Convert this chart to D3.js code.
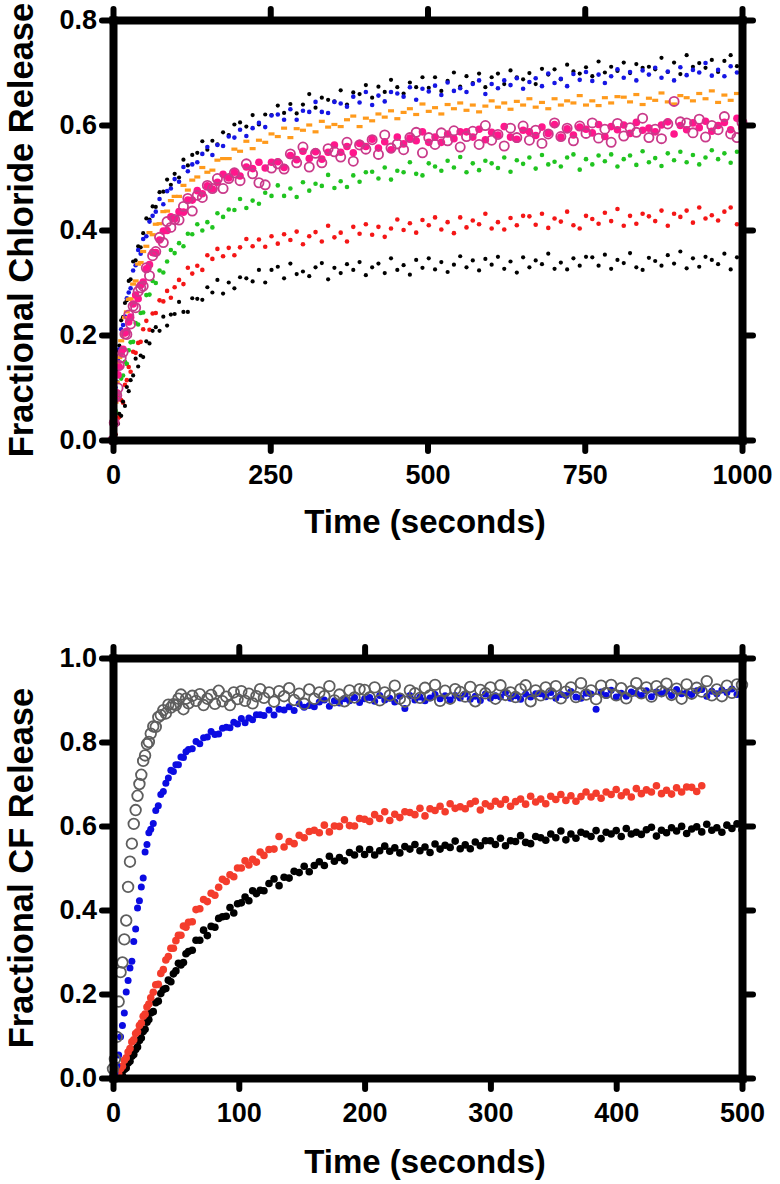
<!DOCTYPE html>
<html>
<head>
<meta charset="utf-8">
<script src="https://cdn.jsdelivr.net/npm/d3@7"></script>
<style>
  body { margin: 0; background: #fff; }
  text { font-family: "Liberation Sans", Arial, Helvetica, sans-serif; font-weight: bold; }
</style>
</head>
<body>
<div id="chart"></div>
<script>
// ---- top panel: fractional chloride release, 0-1000 s ----
var clTimes = [0,2,4,6,8,10,13,16,19,22,25,28,32,36,40,44,48,53,58,63,68,74,80,86,92,98,105,112,119,126,134,142,150,158,166,175,184,193,202,212,222,232,242,252,
  262,272,282,292,302,312,322,332,342,352,362,372,382,392,402,412,422,432,442,452,462,472,482,492,502,512,522,532,542,552,562,572,582,592,602,612,622,632,642,652,662,672,682,692,702,712,722,732,742,752,762,772,782,792,802,812,822,832,842,852,862,872,882,892,902,912,922,932,942,952,962,972,982,992,1000];

var clBlackHigh = [0,0.067,0.089,0.133,0.171,0.180,0.228,0.234,0.261,0.266,0.303,0.306,0.340,0.342,0.369,0.367,0.394,0.422,0.420,0.445,0.444,0.472,0.473,0.496,0.486,0.507,0.500,0.534,0.523,0.543,0.547,0.569,0.553,0.570,0.563,0.586,0.581,0.601,0.605,0.597,0.619,0.601,0.620,0.619,
  0.637,0.623,0.640,0.622,0.639,0.659,0.633,0.652,0.648,0.645,0.666,0.639,0.662,0.659,0.676,0.652,0.673,0.663,0.686,0.672,0.660,0.681,0.672,0.691,0.671,0.691,0.665,0.684,0.700,0.673,
  0.693,0.680,0.698,0.672,0.691,0.698,0.678,0.704,0.691,0.687,0.699,0.678,0.707,0.696,0.706,0.687,0.715,0.702,0.698,0.710,0.693,0.721,0.700,0.711,0.703,0.719,0.699,0.716,0.709,0.711,
  0.706,0.728,0.701,0.719,0.697,0.733,0.711,0.718,0.709,0.724,0.701,0.722,0.733,0.712,0.730];

var clBlue = [0,0.046,0.100,0.111,0.152,0.173,0.211,0.219,0.235,0.270,0.281,0.289,0.323,0.333,0.362,0.355,0.383,0.388,0.416,0.427,0.435,0.459,0.449,0.474,0.479,0.497,0.492,0.520,0.512,0.525,0.529,0.545,0.558,0.543,0.562,0.560,0.578,0.576,0.591,0.579,0.594,0.604,0.596,0.618,
  0.620,0.610,0.630,0.610,0.627,0.625,0.644,0.625,0.623,0.644,0.641,0.635,0.654,0.643,0.663,0.638,0.656,0.645,0.663,0.660,0.654,0.672,0.648,0.669,0.664,0.675,0.657,0.681,0.665,0.670,
  0.663,0.678,0.685,0.659,0.678,0.670,0.685,0.676,0.689,0.669,0.682,0.689,0.674,0.698,0.680,0.688,0.674,0.697,0.686,0.701,0.684,0.696,0.680,0.693,0.706,0.690,0.701,0.685,0.704,0.696,
  0.709,0.690,0.702,0.685,0.710,0.695,0.705,0.700,0.718,0.694,0.705,0.693,0.712,0.700,0.735];

var clOrange = [0,0.049,0.072,0.110,0.147,0.157,0.189,0.200,0.233,0.244,0.268,0.269,0.297,0.303,0.335,0.338,0.359,0.369,0.395,0.391,0.411,0.412,0.435,0.436,0.456,0.464,0.464,0.485,0.476,0.495,0.501,0.519,0.510,0.514,0.533,0.536,0.536,0.554,0.550,0.569,0.555,0.571,0.567,0.583,
  0.578,0.594,0.576,0.593,0.590,0.600,0.587,0.607,0.596,0.601,0.597,0.610,0.617,0.597,0.613,0.608,0.621,0.615,0.627,0.612,0.624,0.631,0.620,0.640,0.626,0.633,0.621,0.639,0.631,0.642,
  0.628,0.638,0.625,0.636,0.646,0.634,0.642,0.630,0.645,0.638,0.650,0.634,0.643,0.631,0.650,0.638,0.646,0.642,0.656,0.638,0.646,0.637,0.652,0.642,0.654,0.653,0.644,0.658,0.639,0.651,
  0.647,0.661,0.644,0.640,0.656,0.652,0.646,0.660,0.650,0.665,0.643,0.657,0.647,0.660,0.657];

var clPink = [0,0.036,0.078,0.090,0.124,0.139,0.166,0.173,0.204,0.207,0.225,0.234,0.259,0.276,0.269,0.295,0.301,0.326,0.334,0.357,0.357,0.381,0.398,0.399,0.425,0.421,0.435,0.434,0.457,0.457,0.475,0.469,0.484,0.478,0.491,0.506,0.499,0.510,0.503,0.520,0.517,0.529,0.518,0.529,
  0.530,0.519,0.542,0.534,0.550,0.536,0.549,0.535,0.548,0.562,0.548,0.559,0.547,0.565,0.559,0.573,0.556,0.568,0.553,0.577,0.564,0.575,0.570,0.587,0.567,0.577,0.567,0.583,0.574,0.587,
  0.587,0.577,0.592,0.572,0.586,0.581,0.597,0.577,0.573,0.590,0.587,0.580,0.596,0.584,0.601,0.577,0.593,0.581,0.596,0.592,0.585,0.601,0.578,0.597,0.591,0.600,0.584,0.605,0.590,0.594,
  0.587,0.600,0.606,0.583,0.599,0.591,0.604,0.595,0.607,0.588,0.599,0.605,0.591,0.613,0.595];

var clPinkOpen = [0,0.033,0.082,0.085,0.099,0.142,0.156,0.167,0.202,0.201,0.238,0.221,0.255,0.252,0.283,0.290,0.293,0.328,0.313,0.351,0.359,0.386,0.376,0.416,0.405,0.420,0.419,0.445,0.460,0.436,0.466,0.462,0.485,0.479,0.498,0.479,0.498,0.509,0.494,0.526,0.507,0.490,0.486,0.518,
  0.526,0.516,0.545,0.528,0.558,0.520,0.546,0.528,0.555,0.549,0.539,0.567,0.531,0.562,0.554,0.572,0.544,0.581,0.556,0.564,0.553,0.576,0.586,0.547,0.576,0.563,0.585,0.570,0.589,0.558,
  0.578,0.588,0.563,0.599,0.571,0.582,0.560,0.594,0.576,0.598,0.571,0.590,0.565,0.583,0.604,0.578,0.594,0.570,0.598,0.584,0.604,0.575,0.592,0.567,0.603,0.579,0.595,0.586,0.613,0.576,
  0.592,0.574,0.602,0.645,0.606,0.604,0.585,0.611,0.577,0.599,0.591,0.616,0.583,0.576,0.605];

var clGreen = [0,0.030,0.056,0.051,0.083,0.090,0.117,0.123,0.149,0.145,0.171,0.186,0.187,0.223,0.220,0.242,0.243,0.276,0.277,0.303,0.299,0.323,0.319,0.340,0.362,0.356,0.375,0.369,0.393,0.392,0.411,0.399,0.415,0.405,0.432,0.425,0.439,0.438,0.459,0.442,0.456,0.450,0.471,0.465,
  0.485,0.465,0.479,0.463,0.491,0.475,0.488,0.484,0.505,0.480,0.493,0.482,0.504,0.492,0.510,0.511,0.498,0.519,0.496,0.513,0.510,0.529,0.507,0.504,0.527,0.521,0.513,0.532,0.519,0.539,
  0.510,0.527,0.514,0.532,0.527,0.518,0.538,0.511,0.533,0.526,0.538,0.517,0.543,0.525,0.530,0.521,0.538,0.544,0.515,0.535,0.525,0.542,0.531,0.544,0.521,0.535,0.542,0.524,0.550,0.529,
  0.537,0.522,0.546,0.533,0.549,0.529,0.543,0.525,0.538,0.552,0.535,0.546,0.528,0.549,0.539];

var clRed = [0,0.014,0.011,0.037,0.042,0.044,0.076,0.071,0.105,0.114,0.139,0.130,0.168,0.166,0.185,0.187,0.211,0.227,0.210,0.241,0.242,0.266,0.264,0.284,0.271,0.291,0.305,0.297,0.328,0.317,0.332,0.324,0.352,0.345,0.364,0.350,0.366,0.352,0.367,0.383,0.369,0.382,0.368,0.388,
  0.374,0.392,0.381,0.397,0.373,0.388,0.396,0.378,0.408,0.386,0.395,0.378,0.406,0.393,0.411,0.391,0.406,0.387,0.403,0.420,0.400,0.413,0.395,0.419,0.409,0.424,0.401,0.415,0.394,0.424,
  0.405,0.418,0.411,0.431,0.403,0.415,0.401,0.423,0.409,0.427,0.426,0.410,0.431,0.404,0.422,0.416,0.435,0.409,0.403,0.427,0.421,0.412,0.433,0.417,0.440,0.408,0.427,0.412,0.431,0.426,
  0.417,0.437,0.408,0.431,0.425,0.437,0.414,0.443,0.422,0.428,0.418,0.435,0.443,0.411,0.434];

var clBlackLow = [0,0.011,0.010,0.030,0.031,0.050,0.046,0.073,0.065,0.101,0.093,0.114,0.123,0.155,0.140,0.161,0.158,0.188,0.184,0.208,0.215,0.208,0.235,0.218,0.239,0.240,0.263,0.244,0.244,0.270,0.269,0.267,0.291,0.281,0.305,0.279,0.300,0.289,0.310,0.308,0.302,0.324,0.300,0.324,
  0.330,0.308,0.336,0.316,0.321,0.312,0.329,0.337,0.306,0.328,0.318,0.335,0.324,0.339,0.314,0.329,0.336,0.318,0.346,0.324,0.333,0.315,0.343,0.328,0.346,0.325,0.339,0.320,0.334,0.350,
  0.329,0.342,0.323,0.345,0.334,0.349,0.326,0.340,0.319,0.348,0.329,0.342,0.335,0.355,0.326,0.338,0.325,0.346,0.332,0.349,0.348,0.332,0.353,0.326,0.343,0.337,0.356,0.329,0.324,0.347,
  0.341,0.332,0.352,0.336,0.359,0.327,0.346,0.330,0.349,0.343,0.335,0.355,0.325,0.348,0.341];

var clXTicks = [0, 250, 500, 750, 1000];
var clYTicks = [0, 0.2, 0.4, 0.6, 0.8];

// ---- bottom panel: fractional CF release, 0-500 s ----
var cfTimes = [0,1.5,3,4.5,6,7.5,9,10.5,12,13.5,15,16.5,18,19.5,21,22.5,24,25.5,27,28.5,30,32,34,36,38,40,42,44,46,48,50,52,54,56,58,60,63,66,69,72,75,78,81,84,87,90,93,96,99,102,105,108,111,114,117,120,
  124,128,132,136,140,144,148,152,156,160,164,168,172,176,180,184,188,192,196,200,204,208,212,216,220,224,228,232,236,240,244,248,252,256,260,264,268,272,276,280,284,288,292,296,300,
  304,308,312,316,320,324,328,332,336,340,344,348,352,356,360,364,368,372,376,380,384,388,392,396,400,404,408,412,416,420,424,428,432,436,440,444,448,452,456,460,464,468,472,476,480,484,488,492,496,500];

var cfGray = [0.022,0.045,0.098,0.182,0.252,0.275,0.330,0.375,0.455,0.515,0.558,0.605,0.638,0.672,0.700,0.722,0.755,0.768,0.795,0.800,0.820,
  0.837,0.836,0.859,0.864,0.876,0.868,0.889,0.882,0.890,0.888,0.903,0.913,0.878,0.903,0.892,0.910,0.898,0.914,0.888,0.903,0.912,0.891,0.922,0.897,0.908,0.888,0.918,0.902,0.921,0.898,0.915,0.892,0.909,0.926,0.905,
  0.918,0.896,0.921,0.909,0.928,0.900,0.915,0.891,0.925,0.903,0.918,0.909,0.933,0.899,0.913,0.897,0.923,0.906,0.926,0.924,0.906,0.930,0.899,0.918,0.911,0.934,0.903,0.896,0.923,0.916,
  0.905,0.929,0.911,0.936,0.898,0.922,0.903,0.926,0.919,0.908,0.931,0.897,0.924,0.916,0.930,0.903,0.935,0.912,0.918,0.907,0.926,0.935,0.897,0.923,0.911,0.930,0.916,0.933,0.904,0.920,
  0.930,0.907,0.940,0.913,0.923,0.902,0.934,0.917,0.936,0.911,0.928,0.904,0.921,0.940,0.916,0.930,0.908,0.933,0.921,0.939,0.912,0.927,0.903,0.937,0.915,0.929,0.920,0.945,0.911,0.925,
  0.909,0.934,0.917,0.937,0.936];

var cfBlue = [0.005,0.012,0.030,0.055,0.098,0.125,0.155,0.205,0.232,0.262,0.278,0.325,0.355,0.405,0.422,0.455,0.476,0.538,0.556,0.584,0.592,
  0.606,0.637,0.648,0.675,0.682,0.702,0.714,0.733,0.730,0.746,0.746,0.764,0.763,0.777,0.782,0.784,0.801,0.796,0.810,0.812,0.825,0.818,0.819,0.833,0.835,0.834,0.847,0.843,0.856,0.846,0.857,0.853,0.865,0.865,0.863,
  0.876,0.864,0.878,0.876,0.884,0.875,0.891,0.883,0.887,0.884,0.895,0.900,0.885,0.898,0.893,0.903,0.898,0.906,0.894,0.903,0.906,0.897,0.911,0.900,0.904,0.895,0.909,0.880,0.911,0.900,
  0.907,0.898,0.905,0.913,0.903,0.910,0.900,0.911,0.905,0.914,0.902,0.909,0.899,0.914,0.904,0.910,0.907,0.918,0.904,0.910,0.902,0.914,0.907,0.915,0.915,0.908,0.918,0.904,0.913,0.911,
  0.920,0.907,0.904,0.916,0.914,0.878,0.919,0.911,0.923,0.907,0.916,0.909,0.919,0.916,0.911,0.922,0.908,0.919,0.915,0.921,0.911,0.925,0.915,0.917,0.913,0.922,0.925,0.909,0.921,0.915,
  0.924,0.918,0.926,0.913,0.921];

// red run stops at 468 s
var cfRed = [0.000,0.002,0.006,0.010,0.022,0.028,0.042,0.048,0.062,0.070,0.086,0.091,0.106,0.110,0.125,0.131,0.147,0.152,0.169,0.176,0.191,
  0.204,0.222,0.223,0.249,0.258,0.281,0.289,0.309,0.309,0.327,0.340,0.340,0.362,0.359,0.371,0.372,0.401,0.403,0.425,0.420,0.440,0.435,0.454,0.473,0.468,0.484,0.479,0.500,0.500,0.517,0.507,0.521,0.514,0.538,0.530,
  0.544,0.545,0.575,0.550,0.563,0.558,0.578,0.572,0.587,0.590,0.584,0.602,0.586,0.600,0.599,0.615,0.601,0.600,0.618,0.616,
  0.611,0.627,0.618,0.634,0.613,0.628,0.620,0.634,0.632,0.627,0.642,0.624,0.641,0.637,0.647,0.634,0.653,0.642,0.646,0.641,
  0.653,0.659,0.638,0.653,0.647,0.659,0.652,0.663,0.647,0.658,0.664,0.652,0.671,0.657,0.664,0.653,0.671,0.663,0.675,0.661,
  0.672,0.659,0.670,0.681,0.669,0.678,0.666,0.681,0.675,0.687,0.672,0.681,0.669,0.689,0.677,0.686,0.681,0.696,0.677,0.685,
  0.676,0.691,0.681,0.693,0.692,0.682,0.696];

var cfBlack = [0.000,0.000,0.002,0.004,0.008,0.006,0.020,0.024,0.036,0.040,0.052,0.056,0.068,0.074,0.089,0.095,0.111,0.116,0.133,0.139,0.155,
  0.158,0.179,0.183,0.201,0.211,0.213,0.233,0.229,0.248,0.255,0.273,0.269,0.275,0.296,0.301,0.304,0.328,0.328,0.352,0.339,0.361,0.359,0.380,0.384,0.385,0.406,0.393,0.415,0.417,0.431,0.422,0.446,0.439,0.447,0.446,
  0.463,0.474,0.458,0.478,0.476,0.492,0.489,0.504,0.491,0.506,0.515,0.506,0.528,0.516,0.525,0.517,0.537,0.531,0.545,0.532,
  0.544,0.531,0.541,0.552,0.540,0.548,0.536,0.551,0.545,0.556,0.541,0.550,0.537,0.557,0.545,0.554,0.549,0.564,0.546,0.555,
  0.546,0.562,0.553,0.565,0.565,0.556,0.571,0.553,0.565,0.563,0.577,0.561,0.558,0.575,0.572,0.566,0.581,0.572,0.588,0.567,
  0.581,0.571,0.585,0.581,0.575,0.589,0.570,0.585,0.581,0.589,0.575,0.594,0.581,0.585,0.580,0.591,0.597,0.576,0.590,0.584,
  0.596,0.588,0.599,0.582,0.593,0.598,0.586,0.604,0.590,0.596,0.585,0.602,0.594,0.605,0.591];

var cfXTicks = [0, 100, 200, 300, 400, 500];
var cfYTicks = [0, 0.2, 0.4, 0.6, 0.8, 1.0];

var svg = d3.select("#chart").append("svg")
    .attr("width", 780)
    .attr("height", 1184);

function styleAxis(a) {
    a.attr("font-family", null).attr("font-size", null);
    a.select(".domain").attr("stroke", "#000").attr("stroke-width", 8).attr("stroke-linecap", "square");
    a.selectAll(".tick line").attr("stroke", "#000").attr("stroke-width", 6).attr("stroke-linecap", "round");
    a.selectAll(".tick text").attr("font-size", 27).attr("fill", "#000");
}

function drawPanel(p) {
    var x = d3.scaleLinear().domain(p.xDomain).range([113, 742]);
    var y = d3.scaleLinear().domain(p.yDomain).range([p.bottom, p.top]);

    // points first, frame drawn over them
    p.series.forEach(function (s) {
        var pts = s.values.map(function (v, i) { return [p.times[i], v]; });
        var g = svg.append("g");
        if (s.shape === "dash") {
            g.selectAll("rect").data(pts).enter().append("rect")
                .attr("x", function (d) { return x(d[0]) - 3; })
                .attr("y", function (d) { return y(d[1]) - 1.6; })
                .attr("width", 6)
                .attr("height", 3.2)
                .attr("fill", s.color);
        } else {
            g.selectAll("circle").data(pts).enter().append("circle")
                .attr("cx", function (d) { return x(d[0]); })
                .attr("cy", function (d) { return y(d[1]); })
                .attr("r", s.r)
                .attr("fill", s.shape === "ring" ? "none" : s.color)
                .attr("stroke", s.shape === "ring" ? s.color : "none")
                .attr("stroke-width", s.shape === "ring" ? s.sw : 0);
        }
    });

    var h = p.bottom, t = p.top;
    svg.append("g").attr("transform", "translate(0," + h + ")")
        .call(d3.axisBottom(x).tickValues(p.xTicks).tickSize(11).tickSizeOuter(0).tickPadding(14).tickFormat(d3.format("d")))
        .call(styleAxis);
    svg.append("g").attr("transform", "translate(0," + t + ")")
        .call(d3.axisTop(x).tickValues(p.xTicks).tickSize(11).tickSizeOuter(0).tickFormat(""))
        .call(styleAxis);
    svg.append("g").attr("transform", "translate(113,0)")
        .call(d3.axisLeft(y).tickValues(p.yTicks).tickSize(11).tickSizeOuter(0).tickPadding(5).tickFormat(d3.format(".1f")))
        .call(styleAxis);
    svg.append("g").attr("transform", "translate(742,0)")
        .call(d3.axisRight(y).tickValues(p.yTicks).tickSize(11).tickSizeOuter(0).tickFormat(""))
        .call(styleAxis);

    svg.append("text")
        .attr("x", 425)
        .attr("y", p.xTitleY)
        .attr("text-anchor", "middle")
        .attr("font-size", 33)
        .text("Time (seconds)");

    svg.append("text")
        .attr("transform", "translate(33," + ((h + t) / 2) + ") rotate(-90)")
        .attr("text-anchor", "middle")
        .attr("font-size", 34.5)
        .text(p.yTitle);
}

drawPanel({
    times: clTimes,
    xDomain: [0, 1000], yDomain: [0, 0.8],
    top: 20, bottom: 440,
    xTicks: clXTicks, yTicks: clYTicks,
    xTitleY: 533,
    yTitle: "Fractional Chloride Release",
    series: [
        { values: clBlackHigh, color: "#000000", r: 2.1 },
        { values: clBlue, color: "#1616e4", r: 2.3 },
        { values: clOrange, color: "#ff9a1c", shape: "dash" },
        { values: clGreen, color: "#20c420", r: 2.3 },
        { values: clRed, color: "#f41616", r: 2.3 },
        { values: clBlackLow, color: "#000000", r: 2.1 },
        { values: clPink, color: "#ff168c", r: 3.8 },
        { values: clPinkOpen, color: "#c93a8a", r: 4.6, sw: 1.8, shape: "ring" }
    ]
});

drawPanel({
    times: cfTimes,
    xDomain: [0, 500], yDomain: [0, 1],
    top: 658, bottom: 1078,
    xTicks: cfXTicks, yTicks: cfYTicks,
    xTitleY: 1173,
    yTitle: "Fractional CF Release",
    series: [
        { values: cfBlack, color: "#000000", r: 3.8 },
        { values: cfRed, color: "#f43c2c", r: 3.8 },
        { values: cfBlue, color: "#0b0be2", r: 3.5 },
        { values: cfGray, color: "#5e5e5e", r: 5.3, sw: 1.8, shape: "ring" }
    ]
});
</script>
</body>
</html>
